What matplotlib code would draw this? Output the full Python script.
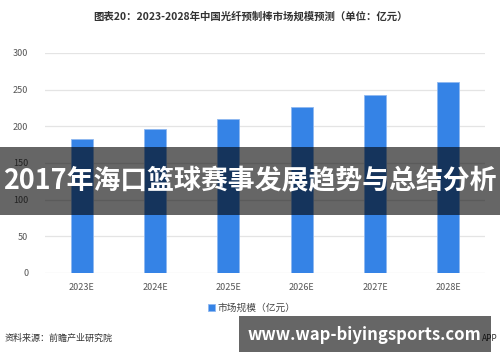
import matplotlib
matplotlib.use('Agg')
import matplotlib.pyplot as plt
from matplotlib.patches import Rectangle

plt.rcParams['font.family'] = ['Noto Sans CJK SC', 'DejaVu Sans']

# data
years = ['2023E', '2024E', '2025E', '2026E', '2027E', '2028E']
market = [183, 196, 210, 226, 243, 260]
yticks = [0, 50, 100, 150, 200, 250, 300]

fig = plt.figure(figsize=(5, 3.62), dpi=100)
ax = fig.add_axes([0.09, 0.246, 0.88, 0.608])

ax.bar(range(len(years)), market, width=0.3, color='#3583e6',
       edgecolor='#8fb8f0', linewidth=0.6, zorder=3, label='市场规模（亿元）')
ax.set_xlim(-0.5, len(years) - 0.5)
ax.set_ylim(0, 300)
ax.set_yticks(yticks)
ax.set_xticks(range(len(years)))
ax.set_xticklabels(years)
ax.grid(axis='y', color='#e4e4e4', linewidth=0.9, zorder=0)
for s in ax.spines.values():
    s.set_visible(False)
ax.tick_params(length=0, labelsize=6.5, colors='#555555')
ax.tick_params(axis='x', pad=7)
ax.tick_params(axis='y', pad=12)

ax.legend(loc='upper center', bbox_to_anchor=(0.47, -0.095), frameon=False,
          fontsize=7, handlelength=0.7, handleheight=0.7, handletextpad=0.2,
          labelcolor='#444444')

fig.text(0.5, 0.955, '图表20：2023-2028年中国光纤预制棒市场规模预测（单位：亿元）',
         ha='center', va='center', fontsize=7.5, fontweight='bold', color='#333333')
fig.text(0.01, 0.066, '资料来源：前瞻产业研究院', ha='left', va='center',
         fontsize=6.5, color='#333333')
fig.text(0.995, 0.066, 'APP', ha='right', va='center', fontsize=6, color='#333333', zorder=4)

# overlay banners
fig.patches.append(Rectangle((0, 1 - 215 / 362), 1, 68 / 362, transform=fig.transFigure,
                             facecolor='black', alpha=0.6, zorder=5))
fig.text(0.5, 1 - 181 / 362, '2017年海口篮球赛事发展趋势与总结分析', ha='center', va='center',
         fontsize=19.4, fontweight='bold', color='white', zorder=6)
fig.patches.append(Rectangle((239 / 500, 1 - 352 / 362), 252 / 500, 36 / 362,
                             transform=fig.transFigure, facecolor='black', alpha=0.6, zorder=5))
fig.text(364 / 500, 1 - 335 / 362, 'www.wap-biyingsports.com', ha='center', va='center',
         fontsize=12, fontweight='bold', color='white', zorder=6)

fig.savefig('out.png', dpi=100)
